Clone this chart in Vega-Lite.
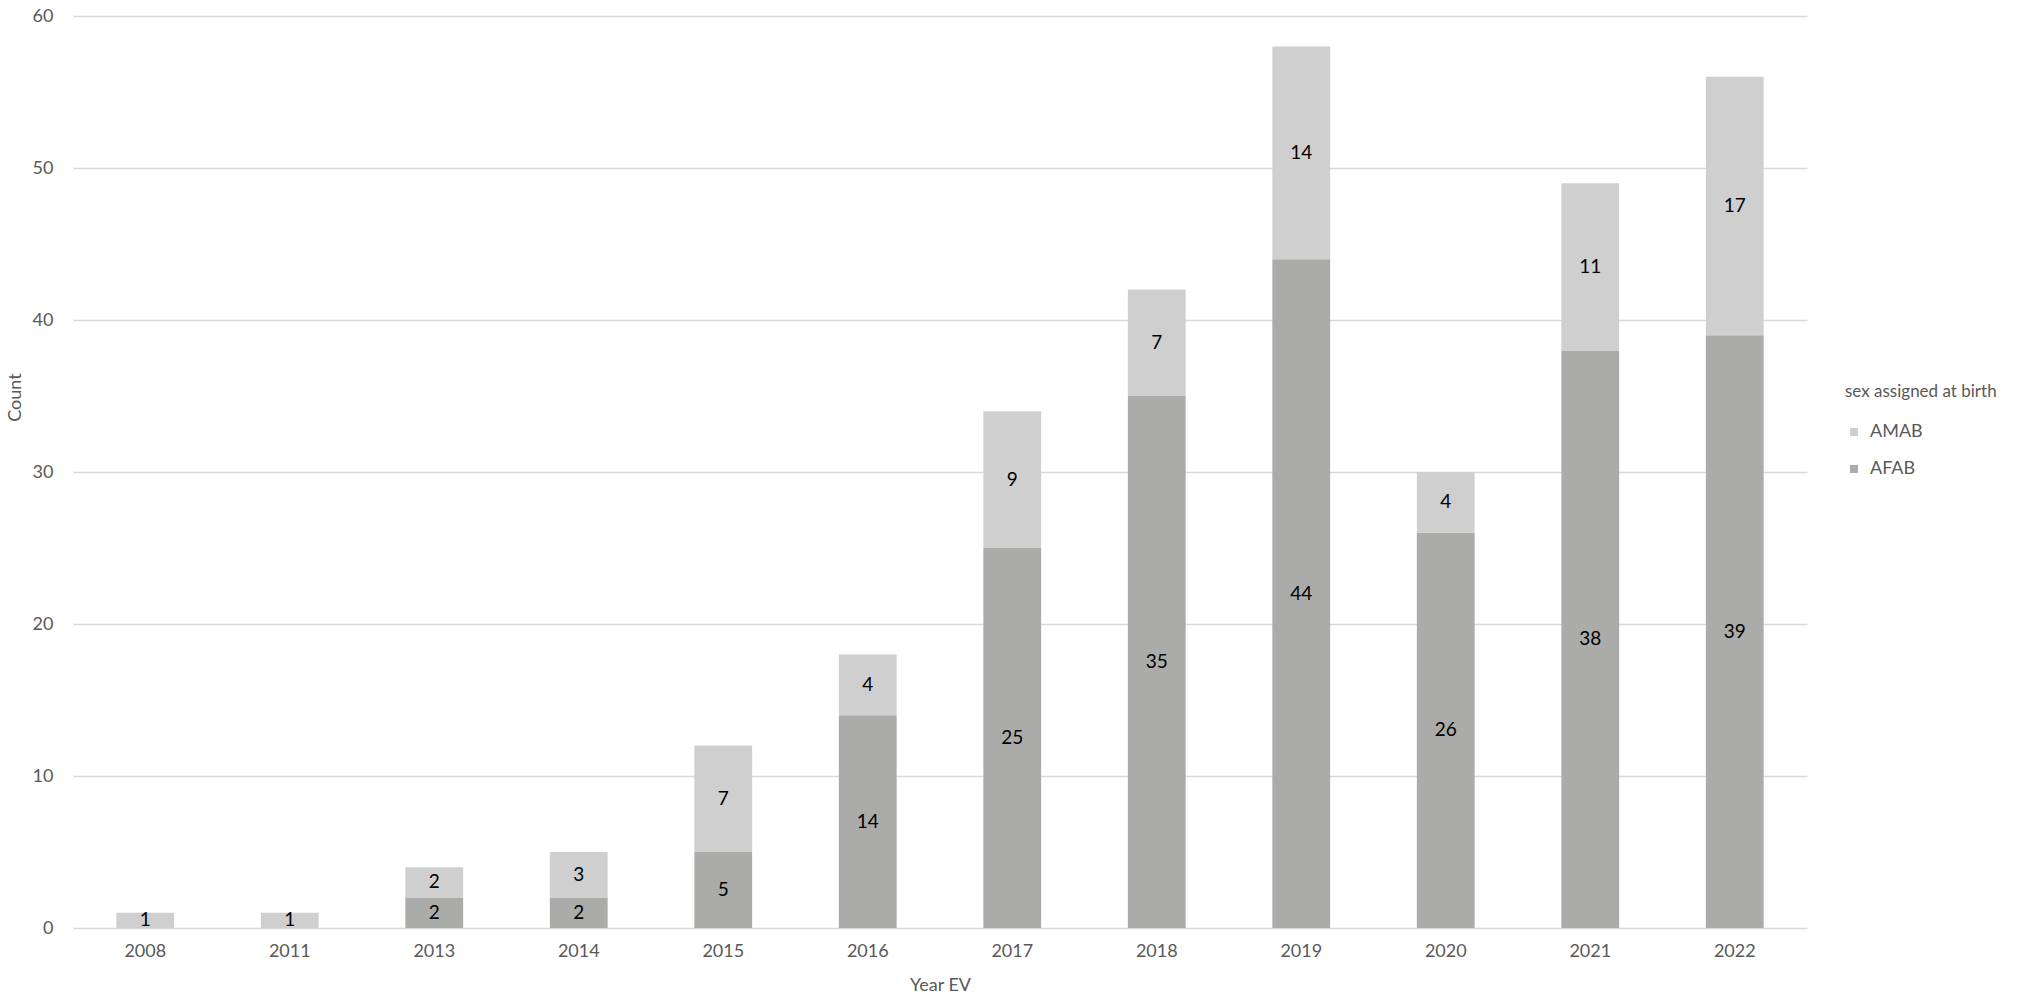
{
  "$schema": "https://vega.github.io/schema/vega-lite/v6.json",
  "width": 1734,
  "height": 912,
  "autosize": "none",
  "padding": {"left": 73, "top": 16, "right": 219, "bottom": 70},
  "background": "white",
  "config": {
    "view": {"stroke": null},
    "font": "Lato"
  },
  "data": {
    "values": [
      {"year": "2008", "sex": "AMAB", "count": 1},
      {"year": "2011", "sex": "AMAB", "count": 1},
      {"year": "2013", "sex": "AFAB", "count": 2},
      {"year": "2013", "sex": "AMAB", "count": 2},
      {"year": "2014", "sex": "AFAB", "count": 2},
      {"year": "2014", "sex": "AMAB", "count": 3},
      {"year": "2015", "sex": "AFAB", "count": 5},
      {"year": "2015", "sex": "AMAB", "count": 7},
      {"year": "2016", "sex": "AFAB", "count": 14},
      {"year": "2016", "sex": "AMAB", "count": 4},
      {"year": "2017", "sex": "AFAB", "count": 25},
      {"year": "2017", "sex": "AMAB", "count": 9},
      {"year": "2018", "sex": "AFAB", "count": 35},
      {"year": "2018", "sex": "AMAB", "count": 7},
      {"year": "2019", "sex": "AFAB", "count": 44},
      {"year": "2019", "sex": "AMAB", "count": 14},
      {"year": "2020", "sex": "AFAB", "count": 26},
      {"year": "2020", "sex": "AMAB", "count": 4},
      {"year": "2021", "sex": "AFAB", "count": 38},
      {"year": "2021", "sex": "AMAB", "count": 11},
      {"year": "2022", "sex": "AFAB", "count": 39},
      {"year": "2022", "sex": "AMAB", "count": 17}
    ]
  },
  "encoding": {
    "x": {
      "field": "year",
      "type": "ordinal",
      "scale": {"paddingInner": 0.6, "paddingOuter": 0.3},
      "axis": {
        "title": "Year EV",
        "labelAngle": 0,
        "domain": false,
        "ticks": false,
        "labelPadding": 14,
        "labelFontSize": 18,
        "labelColor": "#595959",
        "titleFontSize": 18,
        "titleFontWeight": "normal",
        "titleColor": "#595959",
        "titleY": 57,
        "titleBaseline": "middle"
      }
    }
  },
  "layer": [
    {
      "mark": {"type": "bar"},
      "encoding": {
        "y": {
          "field": "count",
          "type": "quantitative",
          "stack": "zero",
          "scale": {"domain": [0, 60]},
          "axis": {
            "title": "Count",
            "values": [0, 10, 20, 30, 40, 50, 60],
            "grid": true,
            "gridColor": "#d9d9d9",
            "gridWidth": 1.5,
            "domain": false,
            "ticks": false,
            "labelPadding": 20,
            "labelFontSize": 18,
            "labelColor": "#595959",
            "titleFontSize": 18,
            "titleFontWeight": "normal",
            "titleColor": "#595959",
            "titleX": -58,
            "titleY": 381,
            "titleBaseline": "middle"
          }
        },
        "color": {
          "field": "sex",
          "type": "nominal",
          "scale": {"domain": ["AMAB", "AFAB"], "range": ["#d0cfcf", "#ababa9"]},
          "legend": {
            "title": "sex assigned at birth",
            "orient": "none",
            "legendX": 1772,
            "legendY": 368,
            "symbolType": "square",
            "symbolSize": 64,
            "symbolStrokeWidth": 0,
            "labelFontSize": 18,
            "labelColor": "#595959",
            "labelOffset": 7,
            "rowPadding": 19,
            "titleFontSize": 17,
            "titleFontWeight": "normal",
            "titleColor": "#595959",
            "titlePadding": 22
          }
        },
        "order": {"field": "sex", "sort": "ascending"}
      }
    },
    {
      "transform": [
        {"stack": "count", "groupby": ["year"], "sort": [{"field": "sex", "order": "ascending"}], "as": ["c0", "c1"]},
        {"calculate": "(datum.c0 + datum.c1) / 2", "as": "mid"}
      ],
      "mark": {"type": "text", "fontSize": 19, "color": "black", "baseline": "middle"},
      "encoding": {
        "y": {"field": "mid", "type": "quantitative"},
        "text": {"field": "count", "type": "quantitative"}
      }
    }
  ]
}
